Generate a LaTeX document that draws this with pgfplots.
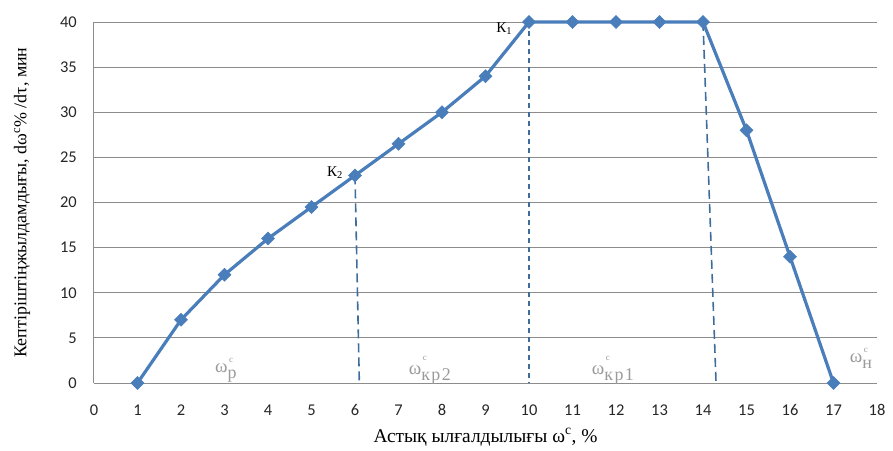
\documentclass[border=0pt]{standalone}
\usepackage{fontspec}
\setmainfont{Liberation Serif}
\newfontfamily\tickfont{Carlito}
\usepackage{pgfplots}
\pgfplotsset{compat=1.18}

\definecolor{seriesblue}{HTML}{4A7EBB}
\definecolor{guideblue}{HTML}{3E6C9C}
\definecolor{gridgray}{HTML}{8C8C8C}
\definecolor{zonegray}{HTML}{9A9A9A}

% moisture zone label: omega, with a small c stacked above a lowered subscript
\newcommand{\zone}[1]{{\fontsize{19}{19}\selectfont ω}\raisebox{-1.3ex}{\shortstack[l]{{\fontsize{9}{7}\selectfont\,c}\\[5pt]{\fontsize{18}{18}\selectfont\addfontfeature{LetterSpace=8}#1}}}}

\begin{document}
\begin{tikzpicture}
\path[use as bounding box] (-94bp,-68bp) rectangle (799bp,383bp);
\begin{axis}[
  scale only axis, width=783bp, height=361bp,
  xmin=0, xmax=18, ymin=0, ymax=40,
  xtick={0,...,18}, ytick={0,5,...,40},
  axis x line=bottom, axis y line=left,
  axis line style={-, draw=gridgray, line width=1bp},
  major tick length=0pt,
  ymajorgrids, grid style={draw=gridgray, line width=0.8bp},
  /pgf/number format/assume math mode=true,
  ticklabel style={font=\tickfont\fontsize{16.5}{16.5}\selectfont, text=black!85, inner sep=0pt},
  xticklabel style={anchor=center, yshift=-27bp},
  yticklabel style={anchor=east, xshift=-17bp},
  xlabel={Астық ылғалдылығы ω\textsuperscript{c}, \%},
  ylabel={Кептiрiштiңжылдамдығы, dω\textsuperscript{c}\% /dτ, мин},
  every axis x label/.style={at={(axis description cs:0.5,-0.15)}, anchor=center, font=\fontsize{19.5}{19.5}\selectfont},
  every axis y label/.style={at={(axis description cs:-0.092,0.5)}, anchor=center, rotate=90, font=\fontsize{18}{18}\selectfont},
  clip=false,
]
% critical-point guide lines
\addplot[guideblue, line width=1.6bp, dash pattern=on 9bp off 5bp] coordinates {(6,23) (6.1,0)};
\addplot[guideblue, line width=1.6bp, dash pattern=on 5bp off 4bp] coordinates {(10,40) (10,0)};
\addplot[guideblue, line width=1.6bp, dash pattern=on 9bp off 5bp] coordinates {(14,40) (14.3,0)};

% drying rate curve
\addplot[seriesblue, line width=3.2bp, mark=square*, mark size=4.6bp,
  mark options={rotate=45, solid, line width=0.5bp, fill=seriesblue}] coordinates {
  (1,0) (2,7) (3,12) (4,16) (5,19.5) (6,23) (7,26.5) (8,30) (9,34)
  (10,40) (11,40) (12,40) (13,40) (14,40) (15,28) (16,14) (17,0)
};

\node[font=\fontsize{15}{15}\selectfont] at (axis cs:5.54,23.3) {К\textsubscript{2}};
\node[font=\fontsize{15}{15}\selectfont] at (axis cs:9.43,39.3) {К\textsubscript{1}};

\node[text=zonegray] at (axis cs:3.03,1.4) {\zone{р}};
\node[text=zonegray] at (axis cs:7.72,1.4) {\zone{кр2}};
\node[text=zonegray] at (axis cs:11.93,1.4) {\zone{кр1}};
\node[text=zonegray] at (axis cs:17.63,2.7) {\zone{н}};
\end{axis}
\end{tikzpicture}
\end{document}
